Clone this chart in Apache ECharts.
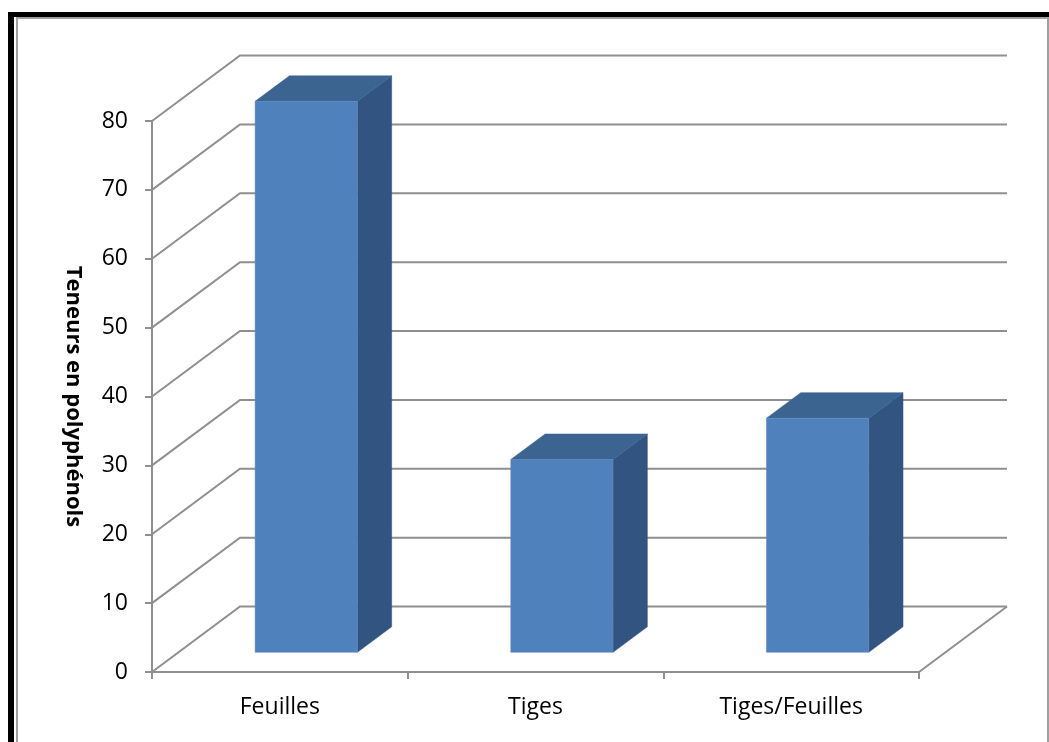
<!DOCTYPE html>
<html>
<head>
<meta charset="utf-8">
<script src="https://cdn.jsdelivr.net/npm/echarts@6/dist/echarts.min.js"></script>
<style>
  html, body { margin: 0; padding: 0; background: #fff; }
  #frame-black { position: absolute; left: 8px; top: 12px; width: 1100px; height: 800px;
    border-left: 6px solid #000; border-top: 5px solid #000; box-sizing: border-box; }
  #frame-gray { position: absolute; left: 16px; top: 17px; width: 1033px; height: 800px;
    border-left: 2px solid #a0a0a0; border-top: 2px solid #a0a0a0; border-right: 2px solid #a0a0a0; box-sizing: border-box; }
  #chart { position: absolute; left: 0; top: 0; width: 1049px; height: 742px; }
</style>
</head>
<body>
<div id="frame-black"></div>
<div id="frame-gray"></div>
<div id="chart"></div>
<script>
const categories = ['Feuilles', 'Tiges', 'Tiges/Feuilles'];
const values = [80, 28, 34];
const yTicks = [0, 10, 20, 30, 40, 50, 60, 70, 80];
const yTitle = 'Teneurs en polyphénols';

// oblique projection of depth (pixels) for the whole floor
const DX = 88, DY = -65.5;
const BAR_FRONT = 0.30;  // bar front face depth fraction
const BAR_DEPTH = 0.39;  // bar depth fraction
const BAR_W = 0.40;      // bar width fraction of band

const gridColor = '#8f8f8f';
const font = 'Open Sans';

const chart = echarts.init(document.getElementById('chart'), null, { renderer: 'canvas' });

function wallsRender(params, api) {
  const cs = params.coordSys;
  const x0 = cs.x, x1 = cs.x + cs.width;
  const children = [];
  const lineStyle = { stroke: gridColor, lineWidth: 2, fill: null };
  yTicks.forEach(v => {
    const y = api.coord([0, v])[1];
    children.push({ type: 'polyline', shape: { points: [[x0, y], [x0 + DX, y + DY], [x1 + DX, y + DY]] }, style: lineStyle, silent: true });
  });
  const y0 = api.coord([0, 0])[1];
  children.push({ type: 'line', shape: { x1: x1, y1: y0, x2: x1 + DX, y2: y0 + DY }, style: lineStyle, silent: true });
  return { type: 'group', children: children };
}

function barRender(params, api) {
  const i = api.value(0);
  const v = api.value(1);
  const pBase = api.coord([i, 0]);
  const pTop = api.coord([i, v]);
  const band = api.size([1, 0])[0];
  const w = band * BAR_W;
  const ox = DX * BAR_FRONT, oy = DY * BAR_FRONT;
  const bx = DX * BAR_DEPTH, by = DY * BAR_DEPTH;
  const L = pBase[0] - w / 2 + ox, R = L + w;
  const T = pTop[1] + oy, B = pBase[1] + oy;
  return {
    type: 'group',
    children: [
      { type: 'polygon', shape: { points: [[R, T], [R + bx, T + by], [R + bx, B + by], [R, B]] },
        style: { fill: '#325481', stroke: '#325481', lineWidth: 0.5 } },
      { type: 'polygon', shape: { points: [[L, T], [R, T], [R + bx, T + by], [L + bx, T + by]] },
        style: { fill: '#3c6491', stroke: '#3c6491', lineWidth: 0.5 } },
      { type: 'rect', shape: { x: L, y: T, width: w, height: B - T },
        style: { fill: '#4f81bd', stroke: '#5a8ac3', lineWidth: 0.5 } }
    ]
  };
}

chart.setOption({
  animation: false,
  grid: { left: 152, top: 121, width: 767, height: 551, containLabel: false },
  xAxis: {
    type: 'category',
    data: categories,
    boundaryGap: true,
    axisLine: { show: true, lineStyle: { color: gridColor, width: 2 } },
    axisTick: { show: true, alignWithLabel: false, interval: 0, length: 7, lineStyle: { color: gridColor, width: 2 } },
    axisLabel: { color: '#000', fontFamily: font, fontSize: 23, margin: 24 },
    splitLine: { show: false }
  },
  yAxis: {
    type: 'value',
    min: 0, max: 80, interval: 10,
    name: yTitle,
    nameLocation: 'middle',
    nameRotate: -90,
    nameGap: 68,
    nameTextStyle: { color: '#000', fontFamily: font, fontSize: 22, fontWeight: 'bold' },
    axisLine: { show: true, lineStyle: { color: gridColor, width: 2 } },
    axisTick: { show: true, length: 7, lineStyle: { color: gridColor, width: 2 } },
    axisLabel: { color: '#000', fontFamily: font, fontSize: 23, margin: 24 },
    splitLine: { show: false }
  },
  series: [
    { type: 'custom', renderItem: wallsRender, data: [[0, 0]], silent: true, z: 1 },
    { type: 'custom', renderItem: barRender, data: values.map((v, i) => [i, v]), z: 2 }
  ]
});
</script>
</body>
</html>
